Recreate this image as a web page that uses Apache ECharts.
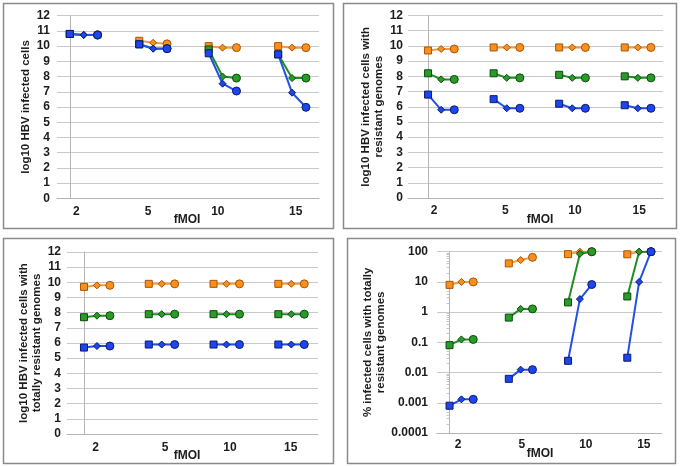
<!DOCTYPE html>
<html>
<head>
<meta charset="utf-8">
<script src="https://cdn.jsdelivr.net/npm/echarts@6/dist/echarts.min.js"></script>
<style>
html,body{margin:0;padding:0;background:#fff;}
#c{width:680px;height:466px;}
</style>
</head>
<body>
<div id="c"></div>
<script>
// ---- data ----
const fmoiLabels = ['2', '5', '10', '15'];
const pointKinds = ['square', 'diamond', 'circle']; // 3 points per fMOI group

// Panel A: log10 HBV infected cells
const aOrange = [10.8, 10.75, 10.75, 10.35, 10.22, 10.15, 10.0, 9.9, 9.9, 10.0, 9.9, 9.9];
const aGreen  = [10.8, 10.73, 10.73, 10.12, 9.84, 9.84, 9.78, 8.0, 7.9, 9.46, 7.9, 7.9];
const aBlue   = [10.8, 10.73, 10.73, 10.12, 9.83, 9.83, 9.53, 7.53, 7.05, 9.46, 6.94, 5.98];

// Panel B: log10 HBV infected cells with resistant genomes
const bOrange = [9.7, 9.8, 9.8, 9.9, 9.9, 9.9, 9.9, 9.9, 9.9, 9.9, 9.9, 9.9];
const bGreen  = [8.2, 7.8, 7.8, 8.2, 7.9, 7.9, 8.1, 7.9, 7.9, 8.0, 7.9, 7.9];
const bBlue   = [6.8, 5.8, 5.8, 6.5, 5.9, 5.9, 6.2, 5.9, 5.9, 6.1, 5.9, 5.9];

// Panel C: log10 HBV infected cells with totally resistant genomes
const cOrange = [9.7, 9.8, 9.8, 9.9, 9.9, 9.9, 9.9, 9.9, 9.9, 9.9, 9.9, 9.9];
const cGreen  = [7.7, 7.8, 7.8, 7.9, 7.9, 7.9, 7.9, 7.9, 7.9, 7.9, 7.9, 7.9];
const cBlue   = [5.7, 5.8, 5.8, 5.9, 5.9, 5.9, 5.9, 5.9, 5.9, 5.9, 5.9, 5.9];

// Panel D: % infected cells with totally resistant genomes (log scale)
const dOrange = [8, 10, 10, 41, 53, 65, 83, 100, 100, 82, 100, 100];
const dGreen  = [0.081, 0.125, 0.125, 0.66, 1.28, 1.28, 2.1, 85, 100, 3.3, 100, 100];
const dBlue   = [0.0008, 0.0013, 0.0013, 0.0062, 0.0125, 0.0125, 0.0245, 2.7, 8.2, 0.031, 10, 100];

const linTicks = [0, 12, 1];            // min, max, interval
const logTicks = [0.0001, 100];

// ---- styles / layout ----
const FONT = '"Liberation Sans", Arial, sans-serif';
const TXT = '#1c1c1c';
const colors = {
  orange: {line: '#F39A3C', fill: '#F7901E', border: '#A85300'},
  green:  {line: '#1F8F23', fill: '#2A9A2A', border: '#0B4A0B'},
  blue:   {line: '#2350E6', fill: '#1E45EE', border: '#0A1A6E'}
};
const symbolMap = {square: ['rect', 7], diamond: ['diamond', 7], circle: ['circle', 8]};

const panels = [
  {grid: {left: 57, top: 15.7, right: 361, bottom: 267.7}, xr: [-0.92, 17.94], lab: [0.48, 5.64, 10.66, 16.26],
   ylog: false, name: 'log10 HBV infected cells', nameGap: 25, labMargin: 7, xlabMargin: 7,
   data: [aOrange, aGreen, aBlue], fmoi: [187, 220]},
  {grid: {left: 408, top: 15.5, right: 17, bottom: 268}, xr: [-1.53, 17.92], lab: [0.46, 5.89, 11.2, 16.1],
   ylog: false, name: 'log10 HBV infected cells with\nresistant genomes', nameGap: 16, labMargin: 5, xlabMargin: 7,
   data: [bOrange, bGreen, bBlue], fmoi: [540, 220]},
  {grid: {left: 67, top: 252, right: 362, bottom: 32}, xr: [-1.31, 18.06], lab: [0.9, 6.25, 11.26, 15.95],
   ylog: false, name: 'log10 HBV infected cells with\ntotally resistant genomes', nameGap: 20, labMargin: 6, xlabMargin: 8,
   data: [cOrange, cGreen, cBlue], fmoi: [187, 456]},
  {grid: {left: 437, top: 251.7, right: 18, bottom: 33}, xr: [-1.06, 17.93], lab: [0.71, 6.1, 11.5, 16.4],
   ylog: true, name: '% infected cells with totally\nresistant genomes', nameGap: 48, labMargin: 9, xlabMargin: 6,
   data: [dOrange, dGreen, dBlue], fmoi: [540, 454]}
];

function buildData(vals) {
  const out = [];
  for (let g = 0; g < fmoiLabels.length; g++) {
    for (let k = 0; k < pointKinds.length; k++) {
      const sm = symbolMap[pointKinds[k]];
      out.push({value: [g * 5 + k, vals[g * 3 + k]], symbol: sm[0], symbolSize: sm[1]});
    }
    if (g < fmoiLabels.length - 1) out.push({value: [g * 5 + 3, '-']});
  }
  return out;
}

const grids = [], xAxes = [], yAxes = [], series = [], graphics = [];
panels.forEach((p, i) => {
  grids.push(Object.assign({containLabel: false}, p.grid));
  xAxes.push({
    type: 'value', gridIndex: i, min: p.xr[0], max: p.xr[1],
    splitLine: {show: false},
    axisLine: {show: true, lineStyle: {color: '#b4b4b4', width: 1}},
    axisTick: {show: false},
    axisLabel: {
      customValues: p.lab, margin: p.xlabMargin, color: TXT, fontFamily: FONT, fontWeight: 'bold', fontSize: 12,
      formatter: (v) => {
        let best = 0, bd = 1e9;
        p.lab.forEach((L, j) => { const d = Math.abs(L - v); if (d < bd) { bd = d; best = j; } });
        return fmoiLabels[best];
      }
    }
  });
  const y = {
    gridIndex: i,
    name: p.name, nameLocation: 'middle', nameRotate: 90, nameGap: p.nameGap,
    nameTextStyle: {color: TXT, fontFamily: FONT, fontWeight: 'bold', fontSize: 11.5, lineHeight: 13, align: 'center'},
    axisLine: {show: true, lineStyle: {color: '#b4b4b4', width: 1}},
    axisTick: {show: false},
    splitLine: {show: true, lineStyle: {color: '#c9c9c9', width: 1}},
    axisLabel: {color: TXT, fontFamily: FONT, fontWeight: 'bold', fontSize: 12, margin: p.labMargin}
  };
  if (p.ylog) {
    Object.assign(y, {
      type: 'log', logBase: 10, min: logTicks[0], max: logTicks[1],
      minorTick: {show: true, splitNumber: 9, length: 3, lineStyle: {color: '#c4c4c4'}},
      axisLabel: Object.assign(y.axisLabel, {formatter: (v) => String(Number(Number(v).toPrecision(1)))})
    });
  } else {
    Object.assign(y, {type: 'value', min: linTicks[0], max: linTicks[1], interval: linTicks[2]});
  }
  yAxes.push(y);
  ['orange', 'green', 'blue'].forEach((c, j) => {
    series.push({
      type: 'line', xAxisIndex: i, yAxisIndex: i, connectNulls: false, animation: false,
      data: buildData(p.data[j]),
      lineStyle: {color: colors[c].line, width: 2},
      itemStyle: {color: colors[c].fill, borderColor: colors[c].border, borderWidth: 1},
      showSymbol: true, z: 2 + j
    });
  });
  graphics.push({
    type: 'text', x: p.fmoi[0], y: p.fmoi[1], z: 10,
    style: {text: 'fMOI', fill: TXT, font: 'bold 12px ' + FONT, align: 'center', verticalAlign: 'middle'}
  });
});

const borders = [[3, 3, 330, 225], [343, 3, 333, 225], [3, 238, 330, 225], [347, 238, 328, 225]];
borders.forEach(b => graphics.push({
  type: 'rect', z: -1, shape: {x: b[0] + 0.5, y: b[1] + 0.5, width: b[2], height: b[3]},
  style: {fill: null, stroke: '#8a8a8a', lineWidth: 1.5}
}));

const chart = echarts.init(document.getElementById('c'), null, {renderer: 'canvas'});
chart.setOption({
  animation: false,
  backgroundColor: '#ffffff',
  grid: grids, xAxis: xAxes, yAxis: yAxes, series: series, graphic: graphics
});
</script>
</body>
</html>
